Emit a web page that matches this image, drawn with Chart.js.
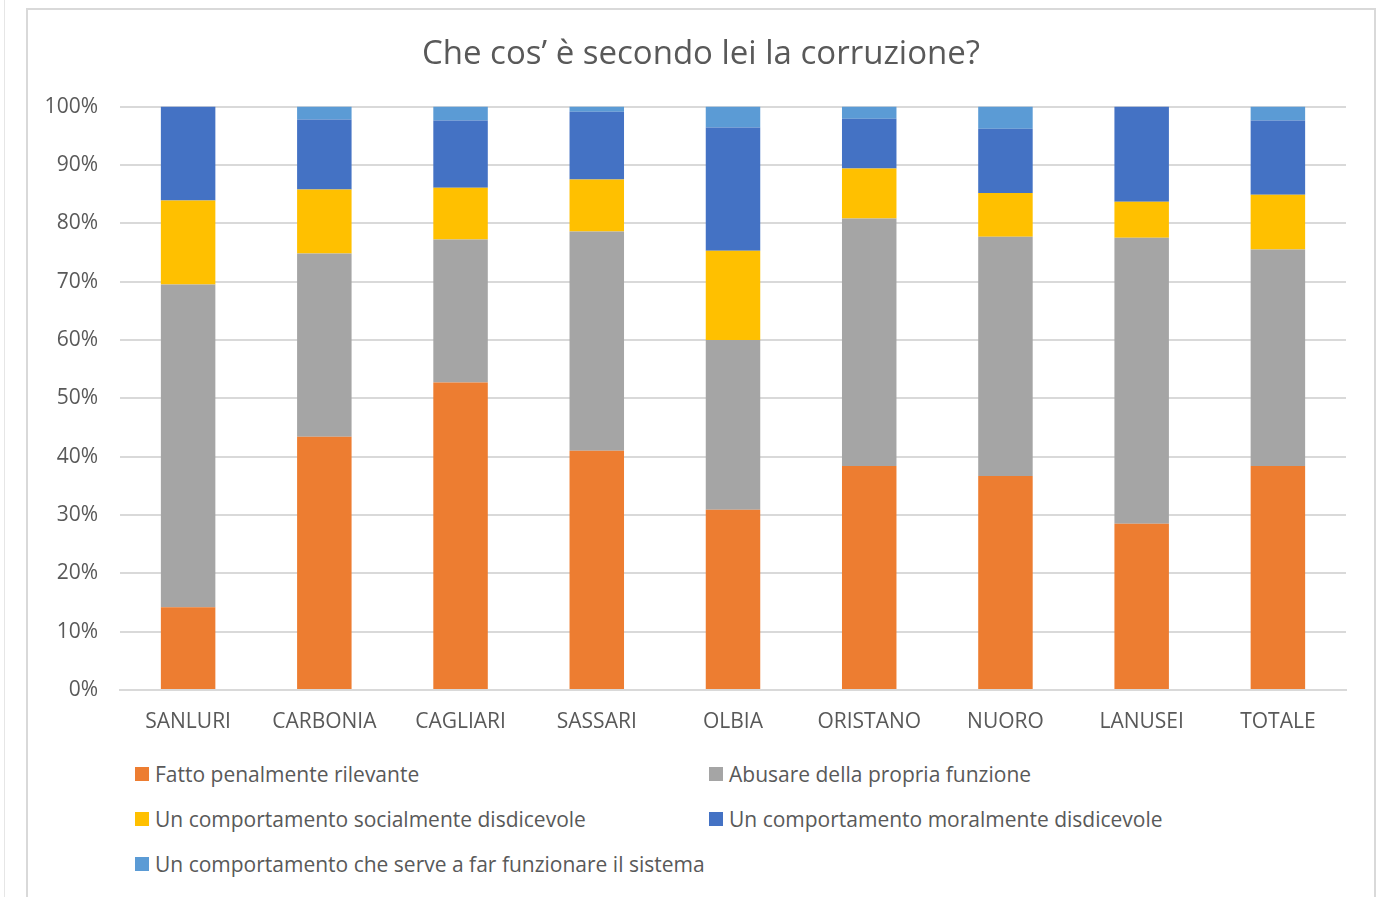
<!DOCTYPE html>
<html lang="it">
<head>
    <meta charset="UTF-8">
    <title>Che cos’ è secondo lei la corruzione?</title>
    <script src="https://cdn.jsdelivr.net/npm/chart.js"></script>
    <style>
        * {
            box-sizing: border-box;
            margin: 0;
            padding: 0;
        }

        body {
            width: 1378px;
            height: 897px;
            background: #fff;
            font-family: "Open Sans", Arial, sans-serif;
            overflow: hidden;
            position: relative;
        }

        /* faint outer edge on the far left */
        .edge {
            position: absolute;
            left: 4px;
            top: 0;
            width: 1px;
            height: 897px;
            background: #e6e6e6;
        }

        /* chart frame */
        .frame {
            position: absolute;
            left: 26px;
            top: 8px;
            width: 1350px;
            height: 900px;
            border: 2px solid #d9d9d9;
        }

        #chart-wrap {
            position: absolute;
            left: 0;
            top: 0;
            width: 1378px;
            height: 745px;
        }

        /* Legend */
        .legend {
            position: absolute;
            left: 135px;
            top: 760px;
            display: grid;
            grid-template-columns: 574px 640px;
            row-gap: 17px;
            color: #595959;
            font-size: 21px;
        }

        .legend-item {
            display: flex;
            align-items: center;
            height: 28px;
            white-space: nowrap;
        }

        .legend-box {
            width: 14px;
            height: 14px;
            margin-right: 6px;
        }
    </style>
</head>
<body>
    <div class="edge"></div>
    <div class="frame"></div>

    <div id="chart-wrap">
        <canvas id="corruzione-chart" width="1378" height="745"></canvas>
    </div>

    <div class="legend" id="legend"></div>

    <script>
        // categories
        const sedi = ['SANLURI', 'CARBONIA', 'CAGLIARI', 'SASSARI', 'OLBIA', 'ORISTANO', 'NUORO', 'LANUSEI', 'TOTALE'];

        // percentages per answer
        const fattoPenale   = [14.2, 43.4, 52.7, 41.0, 30.9, 38.4, 36.7, 28.5, 38.4];
        const abusare       = [55.3, 31.4, 24.5, 37.6, 29.1, 42.4, 41.0, 49.0, 37.1];
        const sociale       = [14.4, 11.0, 8.9, 8.9, 15.3, 8.6, 7.5, 6.2, 9.4];
        const morale        = [16.1, 12.0, 11.5, 11.6, 21.1, 8.5, 11.0, 16.3, 12.7];
        const sistema       = [0, 2.2, 2.4, 0.9, 3.6, 2.1, 3.8, 0, 2.4];

        const etichette = [
            'Fatto penalmente rilevante',
            'Abusare della propria funzione',
            'Un comportamento socialmente disdicevole',
            'Un comportamento moralmente disdicevole',
            'Un comportamento che serve a far funzionare il sistema'
        ];
        const colori = ['#ED7D31', '#A5A5A5', '#FFC000', '#4472C4', '#5B9BD5'];
        const serie = [fattoPenale, abusare, sociale, morale, sistema];

        const yTicks = [0, 10, 20, 30, 40, 50, 60, 70, 80, 90, 100];

        const testo = '#595959';
        const griglia = '#d9d9d9';
        const font = '"Open Sans", Arial, sans-serif';

        const datasets = serie.map((d, i) => ({
            label: etichette[i],
            data: d,
            backgroundColor: colori[i],
            borderWidth: 0,
            barPercentage: 0.4,
            categoryPercentage: 1.0
        }));

        // nudge the title so it sits centred between frame edges, as in the original
        const titleShift = {
            id: 'titleShift',
            afterLayout(chart) {
                if (chart.titleBlock) chart.titleBlock.left += 56;
            }
        };

        const ctx = document.getElementById('corruzione-chart').getContext('2d');
        new Chart(ctx, {
            type: 'bar',
            data: { labels: sedi, datasets: datasets },
            plugins: [titleShift],
            options: {
                responsive: false,
                animation: false,
                layout: {
                    padding: { left: 0, right: 32, top: 35, bottom: 0 }
                },
                plugins: {
                    legend: { display: false },
                    tooltip: { enabled: false },
                    title: {
                        display: true,
                        text: 'Che cos’ è secondo lei la corruzione?',
                        color: testo,
                        font: { family: font, size: 33, weight: 'normal', lineHeight: 1.2 },
                        padding: { top: 0, bottom: 32 }
                    }
                },
                scales: {
                    x: {
                        stacked: true,
                        afterFit: axis => { axis.height = 55; },
                        grid: { display: false, drawTicks: false },
                        border: { color: griglia, width: 2 },
                        ticks: {
                            color: testo,
                            font: { family: font, size: 21 },
                            padding: 19
                        }
                    },
                    y: {
                        stacked: true,
                        min: 0,
                        max: 100,
                        afterFit: axis => { axis.width = 120; },
                        afterBuildTicks: axis => {
                            axis.ticks = yTicks.map(v => ({ value: v }));
                        },
                        grid: { color: griglia, lineWidth: 2, drawTicks: false },
                        border: { display: false },
                        ticks: {
                            color: testo,
                            font: { family: font, size: 21 },
                            padding: 22,
                            callback: v => v + '%'
                        }
                    }
                }
            }
        });

        // HTML legend built from the same labels / colours
        const legendEl = document.getElementById('legend');
        etichette.forEach((lab, i) => {
            const item = document.createElement('div');
            item.className = 'legend-item';
            item.innerHTML = '<span class="legend-box" style="background:' + colori[i] + '"></span>' + lab;
            legendEl.appendChild(item);
        });
    </script>
</body>
</html>
